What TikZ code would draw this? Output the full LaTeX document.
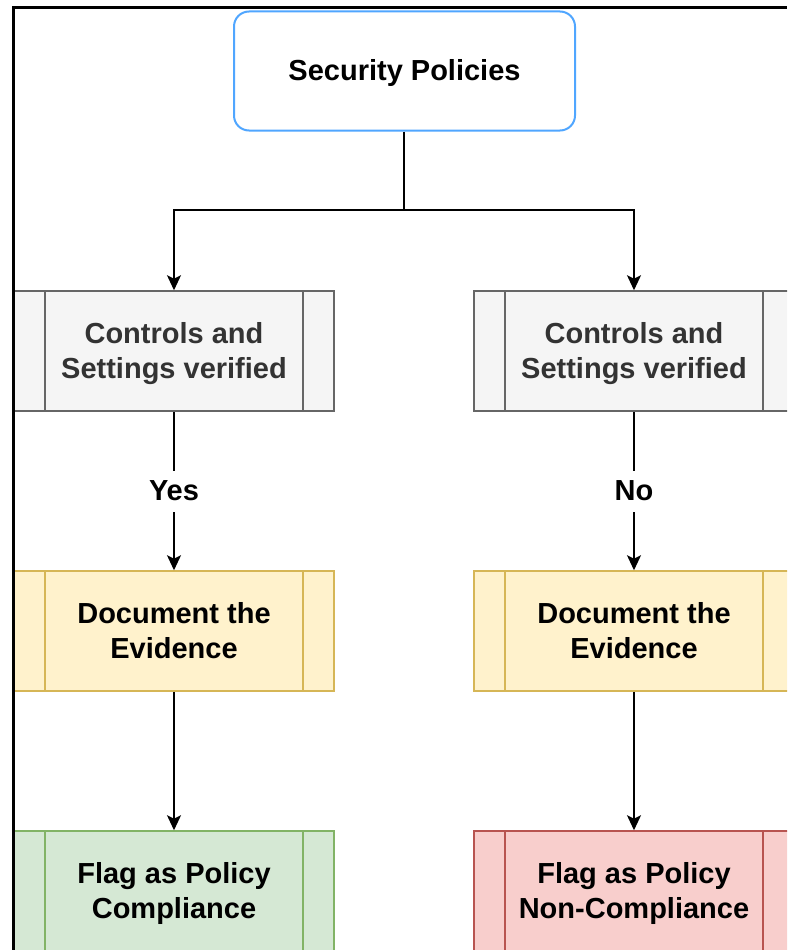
\documentclass[tikz,border=0pt]{standalone}
\usepackage{fontspec}
\setmainfont{Liberation Sans}
\usepackage{xcolor}
\usepackage{tikz}
\usetikzlibrary{arrows.meta}
\definecolor{polblue}{RGB}{80,166,255}
\definecolor{ctlfill}{RGB}{245,245,245}
\definecolor{ctldraw}{RGB}{102,102,102}
\definecolor{ctltext}{RGB}{51,51,51}
\definecolor{docfill}{RGB}{255,242,204}
\definecolor{docdraw}{RGB}{214,182,86}
\definecolor{okfill}{RGB}{213,232,212}
\definecolor{okdraw}{RGB}{130,179,102}
\definecolor{badfill}{RGB}{248,206,204}
\definecolor{baddraw}{RGB}{184,84,80}
\newcommand{\boxstrut}{\rule[-7.6pt]{0pt}{35pt}}
\tikzset{every picture/.style={line width=1.5pt}}

\begin{document}
\begin{tikzpicture}[x=1pt,y=-1pt,>={Stealth[length=15pt,width=14pt,inset=3.5pt]},
  every node/.style={font=\fontsize{29}{35}\selectfont\bfseries},
  policy/.style={draw=polblue,line width=2pt,rounded corners=15pt,fill=white,
                 minimum width=341pt,minimum height=119pt,align=center},
  proc/.style={draw=#1,line width=1.5pt,minimum width=320pt,minimum height=120pt,
               align=center,inner sep=0pt,
               path picture={\draw[#1,line width=1.5pt]
                 ([xshift=31pt]path picture bounding box.north west)--
                 ([xshift=31pt]path picture bounding box.south west)
                 ([xshift=-31pt]path picture bounding box.north east)--
                 ([xshift=-31pt]path picture bounding box.south east);}},
  lbl/.style={fill=white,inner sep=3pt},
  link/.style={black,line width=1.5pt}]

  \useasboundingbox (0,0) rectangle (787,950);
  \clip (0,0) rectangle (787,950);

  % Top of the tree.
  \node[policy] (pol) at (404.5,71) {Security Policies\boxstrut};
  \coordinate (fork) at (404,210);

  % Checks on both branches.
  \node[proc=ctldraw,fill=ctlfill,text=ctltext] (chkY) at (174,351)
    {Controls and\boxstrut\\Settings verified\boxstrut};
  \node[proc=ctldraw,fill=ctlfill,text=ctltext] (chkN) at (634,351)
    {Controls and\boxstrut\\Settings verified\boxstrut};

  \node[proc=docdraw,fill=docfill] (docY) at (174,631)
    {Document the\boxstrut\\Evidence\boxstrut};
  \node[proc=docdraw,fill=docfill] (docN) at (634,631)
    {Document the\boxstrut\\Evidence\boxstrut};

  \node[proc=okdraw,fill=okfill] (flagY) at (174,891)
    {Flag as Policy\boxstrut\\Compliance\boxstrut};
  \node[proc=baddraw,fill=badfill] (flagN) at (634,891)
    {Flag as Policy\boxstrut\\Non-Compliance\boxstrut};

  % Connectors.
  \draw[link] (pol.south -| fork) -- (fork);
  \draw[link,->] (fork) -| (chkY);
  \draw[link,->] (fork) -| (chkN);
  \draw[link,->] (chkY) -- node[lbl] (yes) {Yes\boxstrut} (docY);
  \draw[link,->] (chkN) -- node[lbl] (no) {No\boxstrut} (docN);
  \draw[link,->] (docY) -- (flagY);
  \draw[link,->] (docN) -- (flagN);

  % Frame of the screenshot.
  \draw[black,line width=3pt] (13,950) -- (13,7.5) -- (787,7.5);
\end{tikzpicture}
\end{document}
